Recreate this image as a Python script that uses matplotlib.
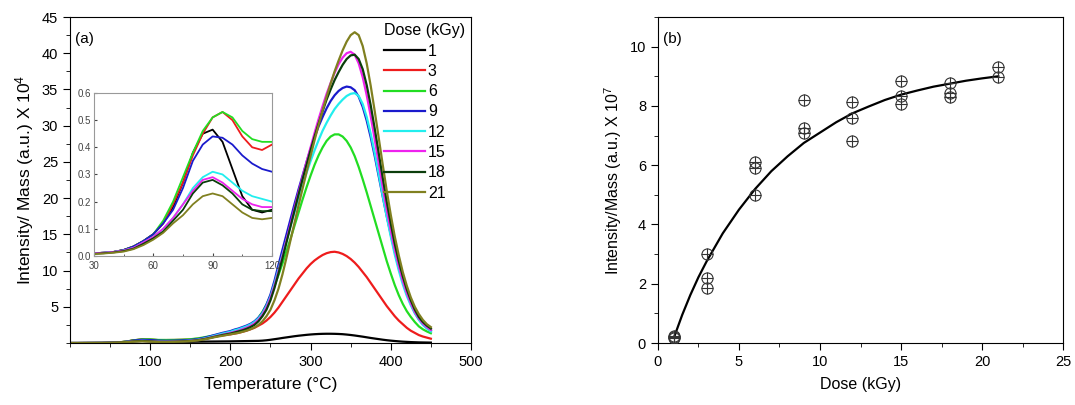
import matplotlib

matplotlib.use("Agg")

import matplotlib.pyplot as plt
import numpy as np
from matplotlib.ticker import FormatStrFormatter, MultipleLocator

plt.rcParams["font.family"] = ["Liberation Sans", "DejaVu Sans"]
plt.rcParams["mathtext.fontset"] = "custom"
plt.rcParams["mathtext.rm"] = "Liberation Sans"
plt.rcParams["mathtext.it"] = "Liberation Sans:italic"

# --- panel (a): glow curves, intensity/mass x 1e4 ---
temp_low = np.arange(0, 200, 10)      # 0..190
temp_high = np.arange(200, 455, 5)    # 200..450
temperature = np.concatenate([temp_low, temp_high])

doses = [1, 3, 6, 9, 12, 15, 18, 21]
colors = ["#000000", "#ee1c1c", "#22dd22", "#1a1acc",
          "#22eeee", "#ee22ee", "#0b3d0b", "#808020"]

glow_1 = [0, 0, 0.005, 0.01, 0.015, 0.035, 0.08, 0.18, 0.38, 0.465,
          0.32, 0.17, 0.17, 0.17, 0.18, 0.18, 0.19, 0.20, 0.21, 0.22,
          0.23, 0.24, 0.25, 0.26, 0.27, 0.28, 0.29, 0.30, 0.33, 0.38,
          0.45, 0.53, 0.61, 0.70, 0.78, 0.86, 0.94, 1.01, 1.07, 1.13,
          1.18, 1.22, 1.25, 1.27, 1.28, 1.28, 1.27, 1.25, 1.22, 1.17,
          1.11, 1.04, 0.96, 0.88, 0.79, 0.70, 0.62, 0.54, 0.46, 0.39,
          0.33, 0.28, 0.23, 0.19, 0.16, 0.13, 0.11, 0.09, 0.08, 0.07,
          0.06]
glow_3 = [0, 0, 0.005, 0.01, 0.015, 0.035, 0.08, 0.19, 0.37, 0.51,
          0.50, 0.40, 0.41, 0.42, 0.45, 0.50, 0.60, 0.75, 0.90, 1.05,
          1.20, 1.30, 1.40, 1.55, 1.70, 1.90, 2.10, 2.40, 2.70, 3.10,
          3.60, 4.20, 4.90, 5.70, 6.50, 7.30, 8.10, 8.90, 9.60, 10.3,
          10.9, 11.4, 11.8, 12.15, 12.4, 12.55, 12.6, 12.5, 12.3, 12.0,
          11.6, 11.1, 10.5, 9.8, 9.1, 8.3, 7.5, 6.7, 5.9, 5.1,
          4.4, 3.7, 3.1, 2.6, 2.1, 1.7, 1.4, 1.1, 0.9, 0.75,
          0.6]
glow_6 = [0, 0, 0.005, 0.01, 0.015, 0.035, 0.08, 0.20, 0.38, 0.51,
          0.51, 0.43, 0.42, 0.43, 0.46, 0.52, 0.65, 0.85, 1.05, 1.30,
          1.50, 1.65, 1.80, 2.00, 2.20, 2.50, 2.90, 3.50, 4.30, 5.30,
          6.50, 7.90, 9.40, 11.0, 12.7, 14.4, 16.2, 18.0, 19.8, 21.5,
          23.1, 24.6, 25.9, 27.0, 27.9, 28.5, 28.8, 28.8, 28.5, 27.9,
          27.0, 25.8, 24.3, 22.6, 20.8, 18.9, 17.0, 15.1, 13.2, 11.3,
          9.6, 8.0, 6.6, 5.4, 4.4, 3.6, 2.9, 2.3, 1.9, 1.6,
          1.35]
glow_9 = [0, 0, 0.005, 0.01, 0.015, 0.035, 0.08, 0.17, 0.35, 0.44,
          0.41, 0.34, 0.31, 0.33, 0.36, 0.42, 0.55, 0.80, 1.10, 1.40,
          1.65, 1.85, 2.00, 2.20, 2.40, 2.65, 3.00, 3.50, 4.20, 5.30,
          6.70, 8.60, 10.8, 12.9, 15.0, 17.1, 19.2, 21.2, 23.1, 25.0,
          26.8, 28.4, 29.9, 31.2, 32.4, 33.4, 34.2, 34.8, 35.2, 35.4,
          35.3, 34.9, 34.0, 32.6, 30.7, 28.4, 25.8, 23.0, 20.2, 17.5,
          15.0, 12.6, 10.4, 8.5, 6.8, 5.4, 4.2, 3.3, 2.6, 2.1,
          1.7]
glow_12 = [0, 0, 0.005, 0.01, 0.015, 0.035, 0.07, 0.14, 0.25, 0.31,
           0.27, 0.22, 0.20, 0.22, 0.26, 0.33, 0.47, 0.70, 1.00, 1.30,
           1.55, 1.75, 1.90, 2.10, 2.30, 2.55, 2.90, 3.40, 4.10, 5.10,
           6.40, 8.20, 10.2, 12.2, 14.2, 16.2, 18.1, 20.0, 21.8, 23.5,
           25.1, 26.6, 28.0, 29.3, 30.4, 31.4, 32.3, 33.0, 33.6, 34.1,
           34.4, 34.5, 34.1, 33.0, 31.2, 28.9, 26.2, 23.3, 20.3, 17.4,
           14.7, 12.2, 10.0, 8.1, 6.5, 5.2, 4.1, 3.2, 2.5, 2.0,
           1.6]
glow_15 = [0, 0, 0.005, 0.01, 0.015, 0.035, 0.07, 0.14, 0.24, 0.29,
           0.24, 0.19, 0.18, 0.20, 0.24, 0.30, 0.42, 0.62, 0.90, 1.15,
           1.40, 1.55, 1.70, 1.90, 2.10, 2.35, 2.70, 3.20, 3.90, 4.90,
           6.20, 7.90, 9.90, 12.0, 14.2, 16.4, 18.6, 20.8, 22.9, 25.0,
           27.0, 29.0, 30.9, 32.7, 34.4, 35.9, 37.3, 38.5, 39.4, 40.0,
           40.2, 39.8, 38.6, 36.7, 34.2, 31.3, 28.1, 24.8, 21.5, 18.4,
           15.5, 12.9, 10.6, 8.6, 6.9, 5.5, 4.3, 3.4, 2.7, 2.2,
           1.8]
glow_18 = [0, 0, 0.005, 0.01, 0.015, 0.035, 0.07, 0.13, 0.23, 0.28,
           0.23, 0.17, 0.165, 0.18, 0.22, 0.28, 0.40, 0.60, 0.85, 1.10,
           1.30, 1.45, 1.60, 1.75, 1.95, 2.20, 2.50, 3.00, 3.70, 4.60,
           5.90, 7.60, 9.60, 11.7, 13.9, 16.1, 18.3, 20.5, 22.6, 24.6,
           26.6, 28.5, 30.3, 32.0, 33.6, 35.0, 36.3, 37.4, 38.4, 39.2,
           39.7, 39.8, 39.2, 37.8, 35.6, 32.8, 29.6, 26.2, 22.8, 19.5,
           16.5, 13.7, 11.3, 9.2, 7.4, 5.9, 4.6, 3.6, 2.9, 2.4,
           2.0]
glow_21 = [0, 0, 0.005, 0.01, 0.015, 0.03, 0.06, 0.12, 0.19, 0.23,
           0.19, 0.14, 0.14, 0.16, 0.20, 0.26, 0.37, 0.55, 0.80, 1.00,
           1.20, 1.30, 1.40, 1.55, 1.70, 1.90, 2.15, 2.50, 3.00, 3.70,
           4.60, 5.90, 7.50, 9.50, 11.8, 14.2, 16.6, 19.0, 21.3, 23.6,
           25.8, 28.0, 30.1, 32.1, 34.0, 35.8, 37.5, 39.0, 40.4, 41.6,
           42.5, 42.9, 42.5, 41.0, 38.6, 35.5, 32.0, 28.3, 24.6, 21.0,
           17.7, 14.7, 12.1, 9.8, 7.9, 6.3, 5.0, 4.0, 3.2, 2.6,
           2.2]
glow_curves = [glow_1, glow_3, glow_6, glow_9, glow_12, glow_15, glow_18, glow_21]

# inset: low-temperature peak, 30..120 C
inset_temp = np.arange(30, 125, 5)
inset_1 = [0.01, 0.012, 0.015, 0.022, 0.035, 0.055, 0.08, 0.12, 0.18, 0.27,
           0.38, 0.45, 0.465, 0.42, 0.32, 0.22, 0.17, 0.16, 0.17]
inset_3 = [0.01, 0.012, 0.015, 0.022, 0.035, 0.055, 0.08, 0.12, 0.19, 0.27,
           0.37, 0.45, 0.51, 0.53, 0.50, 0.44, 0.40, 0.39, 0.41]
inset_6 = [0.01, 0.012, 0.015, 0.022, 0.035, 0.055, 0.08, 0.13, 0.20, 0.29,
           0.38, 0.46, 0.51, 0.53, 0.51, 0.46, 0.43, 0.42, 0.42]
inset_9 = [0.01, 0.012, 0.015, 0.022, 0.035, 0.055, 0.08, 0.12, 0.17, 0.25,
           0.35, 0.41, 0.44, 0.435, 0.41, 0.37, 0.34, 0.32, 0.31]
inset_12 = [0.01, 0.012, 0.015, 0.02, 0.03, 0.05, 0.07, 0.10, 0.14, 0.19,
            0.25, 0.29, 0.31, 0.30, 0.27, 0.24, 0.22, 0.21, 0.20]
inset_15 = [0.01, 0.012, 0.015, 0.02, 0.03, 0.05, 0.07, 0.10, 0.14, 0.19,
            0.24, 0.28, 0.29, 0.27, 0.24, 0.21, 0.19, 0.18, 0.18]
inset_18 = [0.008, 0.01, 0.013, 0.018, 0.027, 0.045, 0.065, 0.09, 0.13, 0.17,
            0.23, 0.27, 0.28, 0.26, 0.23, 0.19, 0.17, 0.165, 0.165]
inset_21 = [0.007, 0.009, 0.012, 0.016, 0.025, 0.04, 0.06, 0.085, 0.12, 0.15,
            0.19, 0.22, 0.23, 0.22, 0.19, 0.16, 0.14, 0.135, 0.14]
inset_curves = [inset_1, inset_3, inset_6, inset_9, inset_12, inset_15, inset_18, inset_21]

# --- panel (b): integrated intensity vs dose, x 1e7 ---
dose_points = [1, 1, 1, 3, 3, 3, 6, 6, 6, 9, 9, 9, 12, 12, 12,
               15, 15, 15, 18, 18, 18, 21, 21]
intensity_points = [0.23, 0.17, 0.2, 3.0, 2.2, 1.85, 6.1, 5.9, 5.0, 8.2, 7.24, 7.08,
                    8.12, 7.6, 6.8, 8.85, 8.33, 8.06, 8.78, 8.45, 8.3, 9.3, 8.96]
fit_dose = [1, 1.5, 2, 2.5, 3, 4, 5, 6, 7, 8, 9, 10, 11, 12, 13, 14, 15,
            16, 17, 18, 19, 20, 21]
fit_intensity = [0.2, 0.95, 1.62, 2.22, 2.75, 3.7, 4.5, 5.2, 5.8, 6.3, 6.75,
                 7.1, 7.45, 7.75, 7.98, 8.2, 8.38, 8.52, 8.65, 8.75, 8.85, 8.93, 9.0]

fig = plt.figure(figsize=(10.75, 4.05), dpi=100)

# panel (a)
ax = fig.add_axes([0.0651, 0.153, 0.373, 0.805])
for dose, color, values in zip(doses, colors, glow_curves):
    ax.plot(temperature, values, color=color, linewidth=1.6, label=str(dose))
ax.set_xlim(0, 500)
ax.set_ylim(0, 45)
ax.set_xticks([100, 200, 300, 400, 500])
ax.set_yticks(np.arange(5, 50, 5))
ax.xaxis.set_minor_locator(MultipleLocator(50))
ax.yaxis.set_minor_locator(MultipleLocator(2.5))
ax.tick_params(which="both", direction="out", top=False, right=False, labelsize=10.5)
ax.tick_params(which="major", length=5)
ax.tick_params(which="minor", length=3)
ax.set_xlabel("Temperature (°C)", fontsize=12.5, labelpad=6)
ax.set_ylabel("Intensity/ Mass (a.u.) X 10$^{4}$", fontsize=12.5, labelpad=4)
ax.text(0.012, 0.955, "(a)", transform=ax.transAxes, fontsize=11, va="top")
leg = ax.legend(title="Dose (kGy)", loc="upper right", bbox_to_anchor=(1.005, 1.005),
                frameon=False, fontsize=11.5, title_fontsize=11.5, handlelength=2.6,
                handletextpad=0.15, labelspacing=0.33, borderaxespad=0.1)
leg._legend_box.align = "left"

# inset
axin = fig.add_axes([0.0874, 0.368, 0.1656, 0.4025])
for color, values in zip(colors, inset_curves):
    axin.plot(inset_temp, values, color=color, linewidth=1.3)
axin.set_xlim(30, 120)
axin.set_ylim(0, 0.6)
axin.set_xticks([30, 60, 90, 120])
axin.set_yticks(np.arange(0, 0.61, 0.1))
axin.yaxis.set_major_formatter(FormatStrFormatter("%.1f"))
axin.xaxis.set_minor_locator(MultipleLocator(15))
axin.tick_params(which="both", direction="in", labelsize=7, colors="#444444")
axin.tick_params(axis="x", pad=3.5)
axin.tick_params(axis="y", pad=2)
axin.tick_params(which="major", length=2.5)
axin.tick_params(which="minor", length=1.5)
for spine in axin.spines.values():
    spine.set_color("#999999")
    spine.set_linewidth(0.8)

# panel (b)
bx = fig.add_axes([0.612, 0.153, 0.377, 0.805])
bx.plot(fit_dose, fit_intensity, color="black", linewidth=1.6, zorder=2)
bx.plot(dose_points, intensity_points, linestyle="none", marker="o", markersize=8,
        markerfacecolor="none", markeredgecolor="#333333", markeredgewidth=0.8, zorder=3)
bx.plot(dose_points, intensity_points, linestyle="none", marker="+", markersize=8,
        color="#333333", markeredgewidth=0.8, zorder=3)
bx.set_xlim(0, 25)
bx.set_ylim(0, 11)
bx.set_xticks(np.arange(0, 30, 5))
bx.set_yticks(np.arange(0, 12, 2))
bx.xaxis.set_minor_locator(MultipleLocator(2.5))
bx.yaxis.set_minor_locator(MultipleLocator(1))
bx.tick_params(which="both", direction="out", top=False, right=False, labelsize=10.5)
bx.tick_params(which="major", length=5)
bx.tick_params(which="minor", length=3)
bx.set_xlabel("Dose (kGy)", fontsize=11.5, labelpad=6)
bx.set_ylabel("Intensity/Mass (a.u.) X 10$^{7}$", fontsize=11.5, labelpad=4)
bx.text(0.012, 0.955, "(b)", transform=bx.transAxes, fontsize=11, va="top")

fig.savefig("out.png", dpi=100)
